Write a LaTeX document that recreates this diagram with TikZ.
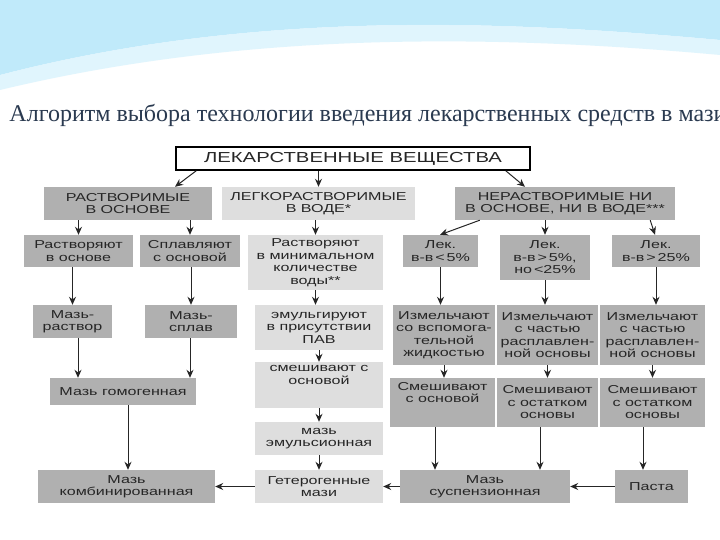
\documentclass[tikz,border=0pt]{standalone}
\usepackage{fontspec}
\setmainfont{Liberation Serif}
\newfontfamily\boxfont{Liberation Sans}[FakeStretch=1.4]
\usetikzlibrary{arrows.meta}
\definecolor{dk}{HTML}{B0B0B0}
\definecolor{lt}{HTML}{DEDEDE}
\definecolor{ttl}{HTML}{2A3A50}
\newcommand{\bx}[7]{\node[#6, minimum width={(#4-#2)*1pt}, minimum height={(#5-#3)*1pt}] (#1) at ({(#2+#4)/2},{(#3+#5)/2}) {#7};}
\begin{document}
\begin{tikzpicture}[x=1pt,y=-1pt,
  b/.style={inner sep=1pt, align=center, font=\boxfont\fontsize{11.5}{12.5}\selectfont, text=black!85},
  d/.style={b, fill=dk},
  l/.style={b, fill=lt},
  ar/.style={-{Stealth[length=8pt,width=7pt]}, line width=1pt, black!85}]
\useasboundingbox (0,0) rectangle (720,540);
\fill[white] (0,0) rectangle (720,540);
\fill[cyan!35!white, opacity=0.7] (0,0) -- (720,0) -- (720,40) .. controls (500,20) and (250,10) .. (0,75) -- cycle;
\fill[cyan!15!white, opacity=0.8] (0,75) .. controls (250,10) and (500,20) .. (720,40) -- (720,55) .. controls (500,35) and (250,30) .. (0,90) -- cycle;
\node[text=ttl, font=\fontsize{24}{26}\selectfont] (title) at (368,115) {Алгоритм выбора технологии введения лекарственных средств в мази};
\bx{top}{176}{147}{530}{170}{b, draw=black, line width=1.5pt, font=\boxfont\fontsize{14.5}{15}\selectfont}{ЛЕКАРСТВЕННЫЕ ВЕЩЕСТВА}
\bx{rb}{44}{187}{212}{220}{d}{РАСТВОРИМЫЕ\\В ОСНОВЕ}
\bx{lv}{222}{187}{415}{220}{l}{ЛЕГКОРАСТВОРИМЫЕ\\В ВОДЕ*}
\bx{nr}{455}{187}{675}{220}{d}{НЕРАСТВОРИМЫЕ НИ\\В ОСНОВЕ, НИ В ВОДЕ***}
\bx{ro}{24}{235}{133}{267}{d}{Растворяют\\в основе}
\bx{so}{140}{235}{240}{267}{d}{Сплавляют\\с основой}
\bx{rm}{248}{235}{383}{290}{l}{Растворяют\\в минимальном\\количестве\\воды**}
\bx{l1}{403}{235}{478}{267}{d}{Лек.\\в-в\,<\,5\%}
\bx{l2}{500}{235}{590}{280}{d}{Лек.\\в-в\,>\,5\%,\\но\,<25\%}
\bx{l3}{612}{235}{700}{267}{d}{Лек.\\в-в\,>\,25\%}
\bx{mr}{33}{305}{112}{338}{d}{Мазь-\\раствор}
\bx{ms}{145}{305}{237}{338}{d}{Мазь-\\сплав}
\bx{em}{255}{305}{383}{350}{l}{эмульгируют\\в присутствии\\ПАВ}
\bx{i1}{393}{305}{495}{365}{d}{Измельчают\\со вспомога-\\тельной\\жидкостью}
\bx{i2}{497}{305}{598}{365}{d}{Измельчают\\с частью\\расплавлен-\\ной основы}
\bx{i3}{600}{305}{705}{365}{d}{Измельчают\\с частью\\расплавлен-\\ной основы}
\bx{mg}{50}{378}{196}{405}{d}{Мазь гомогенная}
\bx{sm}{255}{362}{383}{408}{l}{смешивают с\\основой\\[8pt]}
\bx{s1}{390}{378}{495}{427}{d}{Смешивают\\с основой\\[8pt]}
\bx{s2}{497}{378}{598}{427}{d}{Смешивают\\с остатком\\основы}
\bx{s3}{600}{378}{705}{427}{d}{Смешивают\\с остатком\\основы}
\bx{me}{255}{422}{383}{455}{l}{мазь\\эмульсионная}
\bx{mk}{38}{470}{215}{503}{d}{Мазь\\комбинированная}
\bx{gm}{255}{470}{383}{503}{l}{Гетерогенные\\мази}
\bx{mz}{400}{470}{570}{503}{d}{Мазь\\суспензионная}
\bx{pa}{615}{470}{688}{503}{d}{Паста}
\draw[ar] (top.south west) ++(21,0) coordinate (t1) -- (rb.north -| 175,0);
\draw[ar] (top.south -| lv.north) -- (lv.north);
\draw[ar] (top.south east) ++(-25,0) coordinate (t3) -- (nr.north -| 525,0);
\draw[ar] (ro.north |- rb.south) -- (ro.north);
\draw[ar] (so.north |- rb.south) -- (so.north);
\draw[ar] (rm.north |- lv.south) -- (rm.north);
\draw[ar] (nr.south west) ++(25,0) coordinate (n1) -- (l1.north -| 440,0);
\draw[ar] (l2.north |- nr.south) -- (l2.north);
\draw[ar] (nr.south east) ++(-25,0) coordinate (n3) -- (l3.north -| 655,0);
\draw[ar] (mr.north |- ro.south) -- (mr.north);
\draw[ar] (ms.north |- so.south) -- (ms.north);
\draw[ar] (rm.south) -- (em.north -| rm.south);
\draw[ar] (l1.south) -- (i1.north -| l1.south);
\draw[ar] (l2.south) -- (i2.north -| l2.south);
\draw[ar] (l3.south) -- (i3.north -| l3.south);
\draw[ar] (mr.south -| 78,0) -- (mg.north -| 78,0);
\draw[ar] (ms.south -| 190,0) -- (mg.north -| 190,0);
\draw[ar] (em.south) -- (sm.north);
\draw[ar] (i1.south) -- (s1.north -| i1.south);
\draw[ar] (i2.south) -- (s2.north -| i2.south);
\draw[ar] (i3.south) -- (s3.north -| i3.south);
\draw[ar] (sm.south) -- (me.north);
\draw[ar] (me.south) -- (gm.north);
\draw[ar] (mg.south -| 128,0) -- (mk.north -| 128,0);
\draw[ar] (s1.south -| 435,0) -- (mz.north -| 435,0);
\draw[ar] (s2.south -| 540,0) -- (mz.north -| 540,0);
\draw[ar] (s3.south -| 643,0) -- (pa.north -| 643,0);
\draw[ar] (pa.west) -- (mz.east);
\draw[ar] (mz.west) -- (gm.east);
\draw[ar] (gm.west) -- (mk.east);
\end{tikzpicture}
\end{document}
